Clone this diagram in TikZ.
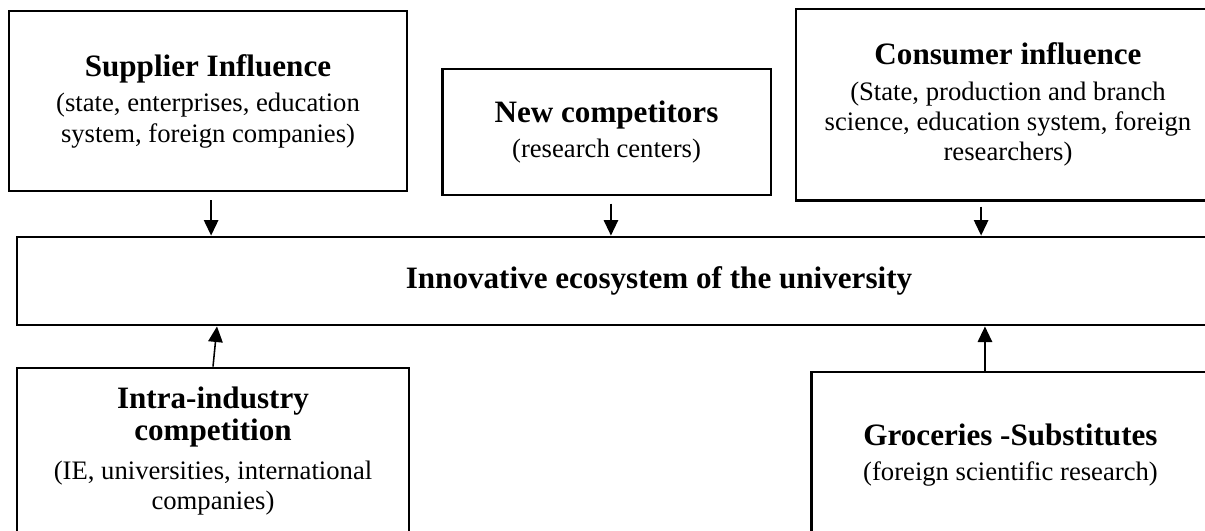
\documentclass[tikz,border=0pt]{standalone}
\usepackage{fontspec}
\setmainfont{Liberation Serif}
\usetikzlibrary{arrows.meta}

\newcommand{\forcetitle}[1]{{\fontsize{14}{15.5}\selectfont\bfseries #1}}

\begin{document}
\begin{tikzpicture}[x=0.45pt,y=-0.45pt]
    \tikzstyle{forcebox} = [rectangle, draw, line width=1.3pt, align=center, inner sep=0pt, font=\fontsize{12}{13.6}\selectfont]
    \tikzstyle{force} = [-{Triangle[length=7pt,width=6.5pt]}, line width=0.7pt]

    \useasboundingbox (0,0) rectangle (1205,530);
    \clip (0,0) rectangle (1205,530);

    % Upper forces
    \node[forcebox, minimum width=179.1pt, minimum height=81pt] (sup) at (208,101)
        {\forcetitle{Supplier Influence}\\[2.5pt] (state, enterprises, education\\ system, foreign companies)};
    \node[forcebox, minimum width=148pt, minimum height=56.7pt] (newc) at (606.5,132)
        {\forcetitle{New competitors}\\[2.5pt] (research centers)};
    \node[forcebox, minimum width=190.8pt, minimum height=86pt] (cons) at (1008,104.5)
        {\forcetitle{Consumer influence}\\[2.5pt] (State, production and branch\hspace*{1em}\\ science, education system, foreign\\ researchers)};

    % Ecosystem
    \node[forcebox, minimum width=577.8pt, minimum height=39.6pt] (eco) at (659,281)
        {\forcetitle{Innovative ecosystem of the university}};

    % Lower forces
    \node[forcebox, minimum width=176.4pt, minimum height=74.7pt] (intra) at (213,451)
        {\forcetitle{Intra-industry}\\[1pt] \forcetitle{competition}\\[4pt] (IE, universities, international\\ companies)};
    \node[forcebox, minimum width=179.5pt, minimum height=74.7pt] (groc) at (1010.5,455)
        {\forcetitle{Groceries -Substitutes}\\[2.5pt] (foreign scientific research)};

    % Influence arrows
    \draw[force, shorten <=3.6pt] ([xshift=1.4pt]sup.south) -- ([xshift=1.4pt]sup.south |- eco.north);
    \draw[force, shorten <=3.2pt] ([xshift=2pt]newc.south) -- ([xshift=2pt]newc.south |- eco.north);
    \draw[force, shorten <=2.3pt] ([xshift=-12.1pt]cons.south) -- ([xshift=-12.1pt]cons.south |- eco.north);
    \draw[force] (intra.north) -- ([xshift=1.8pt]intra.north |- eco.south);
    \draw[force] ([xshift=-11.5pt]groc.north) -- ([xshift=-11.5pt]groc.north |- eco.south);

\end{tikzpicture}
\end{document}
